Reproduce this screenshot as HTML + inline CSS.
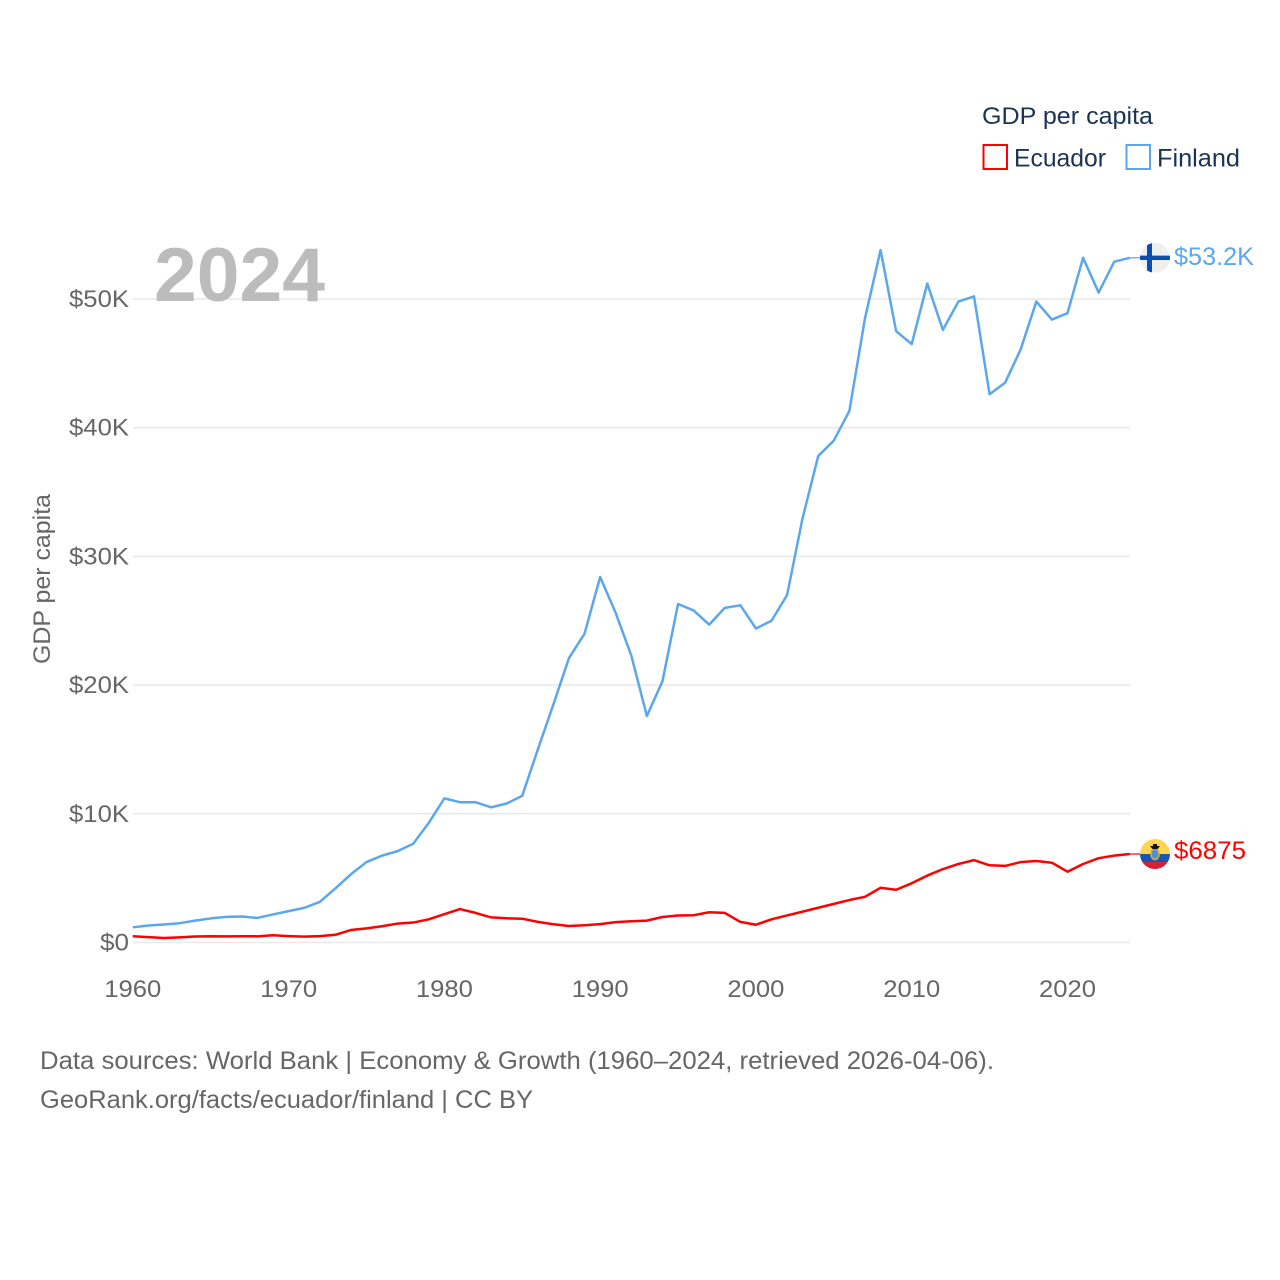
<!DOCTYPE html>
<html lang="en">
<head>
<meta charset="utf-8">
<title>GDP per capita: Ecuador and Finland</title>
<style>
html,body{margin:0;padding:0;background:#fff;width:1280px;height:1280px;overflow:hidden}
svg{display:block}
text{font-family:"Liberation Sans",sans-serif}
</style>
</head>
<body>
<svg id="chart" xmlns="http://www.w3.org/2000/svg" width="1280" height="1280" viewBox="0 0 1280 1280">
  <rect width="1280" height="1280" fill="#fff"/>
  <g id="grid"></g>
  <g id="yticks"></g>
  <g id="xticks"></g>
  <text x="154" y="301" font-size="76" font-weight="700" fill="#bcbcbc" textLength="171" lengthAdjust="spacingAndGlyphs">2024</text>
  <text transform="translate(50,664) rotate(-90)" font-size="24" fill="#666" textLength="170" lengthAdjust="spacingAndGlyphs">GDP per capita</text>
  <g id="series"></g>
  <g id="endpoints"></g>
  <g>
    <text x="982" y="124" font-size="24.5" fill="#1a3354" textLength="171" lengthAdjust="spacingAndGlyphs">GDP per capita</text>
    <rect x="983.5" y="145" width="23.5" height="24" fill="#fff" stroke="#ff0000" stroke-width="2"/>
    <text x="1014" y="166.500" font-size="25" fill="#1a3354" textLength="92" lengthAdjust="spacingAndGlyphs">Ecuador</text>
    <rect x="1126.500" y="145" width="23.500" height="24" fill="#fff" stroke="#5ba7ee" stroke-width="2"/>
    <text x="1157" y="166.500" font-size="25" fill="#1a3354" textLength="83" lengthAdjust="spacingAndGlyphs">Finland</text>
  </g>
  <g>
    <text x="40" y="1069" font-size="25" fill="#666" textLength="954" lengthAdjust="spacingAndGlyphs">Data sources: World Bank | Economy &amp; Growth (1960–2024, retrieved 2026-04-06).</text>
    <text x="40" y="1108" font-size="25" fill="#666" textLength="493" lengthAdjust="spacingAndGlyphs">GeoRank.org/facts/ecuador/finland | CC BY</text>
  </g>
</svg>
<script>
const years = [];
for (let yr = 1960; yr <= 2024; yr++) years.push(yr);
const finlandGdp = [1180,1320,1400,1500,1700,1870,1990,2020,1910,2180,2440,2690,3150,4200,5300,6250,6750,7100,7670,9300,11200,10900,10900,10500,10800,11400,15000,18500,22100,24000,28400,25600,22300,17600,20300,26300,25800,24700,26000,26200,24400,25000,27000,33000,37800,39000,41300,48500,53800,47500,46500,51200,47600,49800,50200,42600,43500,46100,49800,48400,48900,53200,50500,52900,53200];
const ecuadorGdp = [490,420,350,400,470,490,480,490,480,560,500,460,500,600,970,1100,1260,1470,1550,1800,2200,2600,2300,1950,1880,1850,1600,1420,1280,1340,1430,1580,1650,1700,1980,2100,2120,2350,2300,1600,1380,1800,2100,2400,2700,3000,3300,3550,4250,4100,4600,5200,5700,6100,6400,6000,5950,6250,6330,6200,5500,6100,6550,6750,6875];
const yTickValues = [0,10000,20000,30000,40000,50000];
const yTickLabels = ['$0','$10K','$20K','$30K','$40K','$50K'];
const xTickValues = [1960,1970,1980,1990,2000,2010,2020];
const finlandLabel = '$53.2K';
const ecuadorLabel = '$6875';

const NS = 'http://www.w3.org/2000/svg';
const xScale = function (yr) { return 132.8 + (yr - 1960) * (1129.8 - 132.8) / 64; };
const yScale = function (v) { return 942.5 - v * (942.5 - 299) / 50000; };
function make(tag, attrs, parent, txt) {
  const el = document.createElementNS(NS, tag);
  for (const k in attrs) el.setAttribute(k, attrs[k]);
  if (txt !== undefined) el.textContent = txt;
  parent.appendChild(el);
  return el;
}
const gridG = document.getElementById('grid');
const yG = document.getElementById('yticks');
const xG = document.getElementById('xticks');
const seriesG = document.getElementById('series');
const endG = document.getElementById('endpoints');

yTickValues.forEach(function (v, i) {
  const ln = make('line', {x1: 133, x2: 1130, y1: yScale(v), y2: yScale(v), stroke: '#e9e9e9', 'stroke-width': 1.6}, gridG);
  
  
  const t = make('text', {x: 129, y: yScale(v) + 8, 'text-anchor': 'end', 'font-size': 24, fill: '#666', textLength: (yTickLabels[i].length * 15 - (i === 0 ? 1 : 0)), lengthAdjust: 'spacingAndGlyphs'}, yG, yTickLabels[i]);
  
  
});
xTickValues.forEach(function (yr) {
  const t = make('text', {x: xScale(yr), y: 997, 'text-anchor': 'middle', 'font-size': 24, fill: '#666', textLength: 57, lengthAdjust: 'spacingAndGlyphs'}, xG, String(yr));
  
  
});
function pathFor(vals) {
  return vals.map(function (v, i) {
    return (i ? 'L' : 'M') + xScale(years[i]).toFixed(2) + ' ' + yScale(v).toFixed(2);
  }).join(' ');
}
const finlandLine = make('path', {d: pathFor(finlandGdp), fill: 'none', stroke: '#5ba7ee', 'stroke-width': 2.5, 'stroke-linejoin': 'round'}, seriesG);


const ecuadorLine = make('path', {d: pathFor(ecuadorGdp), fill: 'none', stroke: '#ff0000', 'stroke-width': 2.5, 'stroke-linejoin': 'round'}, seriesG);



const xEnd = xScale(years[years.length - 1]);
const fy = yScale(finlandGdp[finlandGdp.length - 1]);
const ey = yScale(ecuadorGdp[ecuadorGdp.length - 1]);
const cx = 1155;
const R = 15;

const fConn = make('line', {x1: xEnd, x2: cx - R, y1: fy, y2: fy, stroke: '#5ba7ee', 'stroke-width': 1.2}, endG);


const eConn = make('line', {x1: xEnd, x2: cx - R, y1: ey, y2: ey, stroke: '#ff0000', 'stroke-width': 1.2}, endG);



const defs = make('defs', {}, endG);
const cpF = make('clipPath', {id: 'clip-fi'}, defs);
make('circle', {cx: cx, cy: fy, r: R}, cpF);
const cpE = make('clipPath', {id: 'clip-ec'}, defs);
make('circle', {cx: cx, cy: ey, r: R}, cpE);

const fFlag = make('g', {'clip-path': 'url(#clip-fi)'}, endG);


make('rect', {x: cx - R, y: fy - R, width: 2 * R, height: 2 * R, fill: '#efefef'}, fFlag);
make('rect', {x: cx - 8, y: fy - R, width: 5, height: 2 * R, fill: '#0a4fb0'}, fFlag);
make('rect', {x: cx - R, y: fy - 2.2, width: 2 * R, height: 4.4, fill: '#0a4fb0'}, fFlag);

const eFlag = make('g', {'clip-path': 'url(#clip-ec)'}, endG);


make('rect', {x: cx - R, y: ey - R, width: 2 * R, height: 15, fill: '#ffd54f'}, eFlag);
make('rect', {x: cx - R, y: ey, width: 2 * R, height: 8, fill: '#1a56b0'}, eFlag);
make('rect', {x: cx - R, y: ey + 8, width: 2 * R, height: 7, fill: '#d81e34'}, eFlag);
make('ellipse', {cx: cx, cy: ey, rx: 4, ry: 5.5, fill: '#4a90e2', stroke: '#d9ae2c', 'stroke-width': 1.6}, eFlag);
make('path', {d: 'M' + (cx - 5) + ' ' + (ey - 8) + ' h10 l-2.5 3 h-5 z M' + (cx - 2) + ' ' + (ey - 10) + ' h4 v2 h-4 z', fill: '#111'}, eFlag);

const fLabel = make('text', {x: 1174, y: fy + 7, 'font-size': 25, fill: '#5ba7ee', textLength: 80, lengthAdjust: 'spacingAndGlyphs'}, endG, finlandLabel);


const eLabel = make('text', {x: 1174, y: ey + 5, 'font-size': 25, fill: '#ff0000', textLength: 72, lengthAdjust: 'spacingAndGlyphs'}, endG, ecuadorLabel);


</script>
</body>
</html>
